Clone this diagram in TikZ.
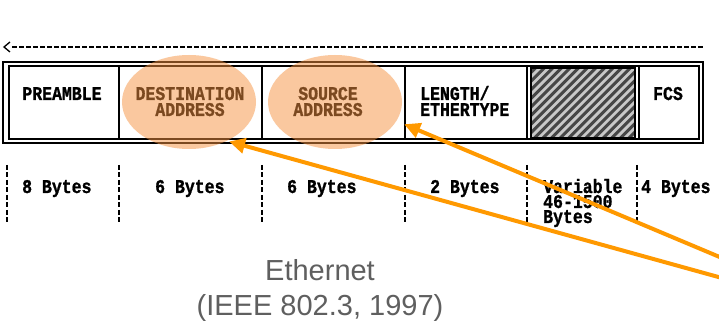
\documentclass[tikz,border=0pt]{standalone}
\usepackage{fontspec}
\usetikzlibrary{arrows.meta}
\newfontfamily\dosfont[BoldFeatures={FakeBold=1.2}]{Liberation Mono}
\newfontfamily\capfont{Liberation Sans}
\newcommand{\dos}[1]{\scalebox{1}[1.18]{#1}}
\definecolor{hilite}{RGB}{246,146,64}
\definecolor{pointer}{RGB}{255,153,0}
\definecolor{captiongray}{RGB}{95,95,95}
\definecolor{hatchfill}{RGB}{200,200,200}
\definecolor{hatchline}{RGB}{70,70,70}
\tikzset{
  field/.style={font=\dosfont\bfseries\fontsize{16.5}{16.5}\selectfont, inner sep=0pt, anchor=base},
  fieldl/.style={field, anchor=base west},
  frameline/.style={line width=1.2pt, black},
  divider/.style={line width=2pt, black},
  bytesep/.style={line width=2.5pt, black, dash pattern=on 5pt off 2.5pt},
  spot/.style={fill=hilite, fill opacity=0.5, draw=none},
  pointerline/.style={draw=pointer, line width=4pt, -{Triangle[length=16pt,width=15pt]}, shorten >=-2pt},
  caption/.style={font=\capfont\fontsize{29}{29}\selectfont, text=captiongray, inner sep=0pt, anchor=base},
}
\begin{document}
\begin{tikzpicture}[x=1pt, y=-1pt]
\useasboundingbox (0,0) rectangle (719,328);
\fill[white] (0,0) rectangle (719,328);

% overall length marker
\draw[line width=1.3pt] (10,42) -- (4,47) -- (10,52);
\draw[line width=1.3pt, dash pattern=on 5pt off 2pt] (12,47) -- (703,47);

% frame with double border
\draw[frameline] (3,62) rectangle (703,143);
\draw[frameline] (9,66) rectangle (699,139);
\foreach \x in {119,262,405,527,639}
  \draw[divider] (\x,66) -- (\x,139);

% data field hatching
\begin{scope}
  \clip (531,68) rectangle (635,138);
  \fill[hatchfill] (531,68) rectangle (635,138);
  \foreach \i in {0,...,22}
    \draw[hatchline, line width=3pt] ({455+\i*8.6},140) -- ++(74,-74);
\end{scope}
\draw[line width=2pt] (531,68) rectangle (635,138);

% field names
\node[field] (pre) at (62,100) {\dos{PREAMBLE}};
\node[field] (dst1) at (190,100) {\dos{DESTINATION}};
\node[field] (dst2) at (190,116) {\dos{ADDRESS}};
\node[field] (src1) at (328,100) {\dos{SOURCE}};
\node[field] (src2) at (328,116) {\dos{ADDRESS}};
\node[fieldl] (len1) at (420,100) {\dos{LENGTH/}};
\node[fieldl] (len2) at (420,116) {\dos{ETHERTYPE}};
\node[field] (fcs) at (668,100) {\dos{FCS}};

% field sizes
\foreach \x in {7,119,262,405,527,637}
  \draw[bytesep] (\x,165) -- (\x,223);
\node[fieldl] (b1) at (22,193) {\dos{8 Bytes}};
\node[fieldl] (b2) at (155,193) {\dos{6 Bytes}};
\node[fieldl] (b3) at (287,193) {\dos{6 Bytes}};
\node[fieldl] (b4) at (430,193) {\dos{2 Bytes}};
\node[fieldl] (b5a) at (543,193) {\dos{Variable}};
\node[fieldl] (b5b) at (543,208) {\dos{46-1500}};
\node[fieldl] (b5c) at (543,223) {\dos{Bytes}};
\node[fieldl] (b6) at (641,193) {\dos{4 Bytes}};

% highlighted address fields
\fill[spot] (189,102) ellipse [x radius=67, y radius=47];
\fill[spot] (335,102) ellipse [x radius=67, y radius=47];

% pointers
\coordinate (dstTip) at (231,142);
\coordinate (lenTip) at (406,125);
\coordinate (tailA) at (722,278);
\coordinate (tailB) at (722,258);
\draw[pointerline] (tailA) -- (dstTip);
\draw[pointerline] (tailB) -- (lenTip);

% caption
\node[caption] (cap1) at (320,280) {Ethernet};
\node[caption] (cap2) at (320,315) {(IEEE 802.3, 1997)};
\end{tikzpicture}
\end{document}
